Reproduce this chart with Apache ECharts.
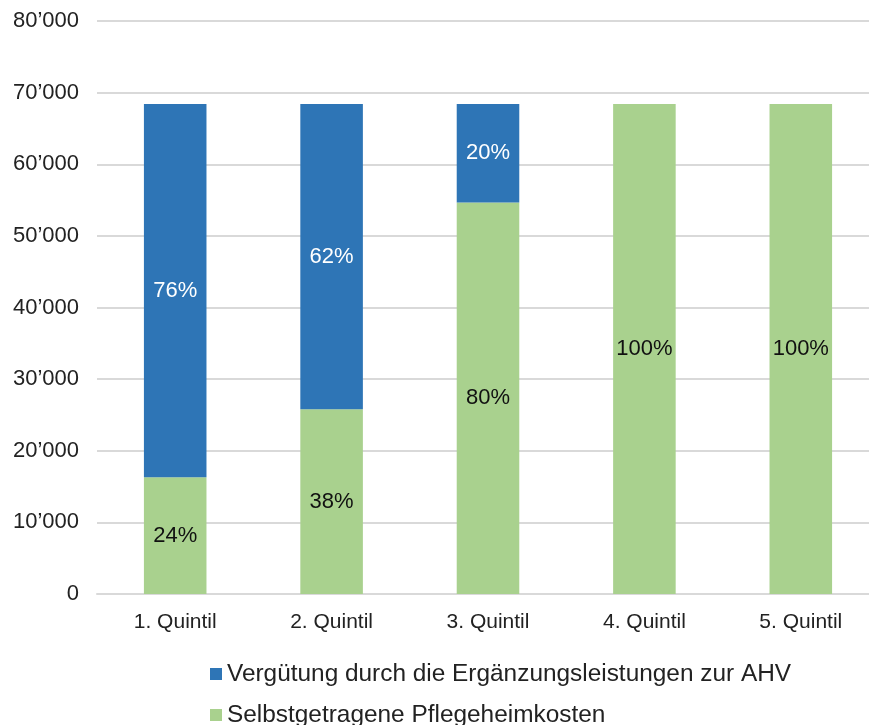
<!DOCTYPE html>
<html>
<head>
<meta charset="utf-8">
<script src="https://cdn.jsdelivr.net/npm/echarts@6/dist/echarts.min.js"></script>
<style>
  html, body { margin: 0; padding: 0; background: #fff; }
  #chart { width: 869px; height: 725px; }
</style>
</head>
<body>
<div id="chart"></div>
<script>
const categories = ['1. Quintil', '2. Quintil', '3. Quintil', '4. Quintil', '5. Quintil'];
const selfPaid = [16300, 25800, 54650, 68400, 68400];
const elPaid = [52100, 42600, 13750, 0, 0];
const selfPct = ['24%', '38%', '80%', '100%', '100%'];
const elPct = ['76%', '62%', '20%', '', ''];
const seriesNames = ['Vergütung durch die Ergänzungsleistungen zur AHV', 'Selbstgetragene Pflegeheimkosten'];

const chart = echarts.init(document.getElementById('chart'));

const font = 'Liberation Sans, Arial, sans-serif';

function fmt(v) {
  return String(v).replace(/\B(?=(\d{3})+(?!\d))/g, '\u2019');
}

function legendRow(name, top) {
  return {
    left: 210,
    top: top,
    padding: 0,
    itemWidth: 12,
    itemHeight: 12,
    itemGap: 0,
    icon: 'rect',
    textStyle: { fontSize: 24.4, color: '#222', fontFamily: font, padding: [0, 0, 0, 0] },
    data: [name]
  };
}

const option = {
  animation: false,
  textStyle: { fontFamily: font },
  grid: { left: 97, width: 782, top: 21, bottom: 131, outerBoundsMode: 'none' },
  legend: [legendRow(seriesNames[0], 662), legendRow(seriesNames[1], 703)],
  xAxis: {
    type: 'category',
    data: categories,
    axisLine: { lineStyle: { color: '#d9d9d9', width: 2 } },
    axisTick: { show: false },
    axisLabel: { fontSize: 21, color: '#222', margin: 18 }
  },
  yAxis: {
    type: 'value',
    min: 0,
    max: 80000,
    interval: 10000,
    axisLine: { show: false },
    axisTick: { show: false },
    splitLine: { lineStyle: { color: '#d9d9d9', width: 2 } },
    axisLabel: { fontSize: 22, color: '#222', margin: 18, formatter: fmt }
  },
  series: [
    {
      name: seriesNames[1],
      type: 'bar',
      stack: 'total',
      barWidth: '40%',
      itemStyle: { color: '#a9d18e' },
      label: {
        show: true,
        position: 'inside',
        fontSize: 22,
        color: '#111',
        formatter: p => selfPct[p.dataIndex]
      },
      data: selfPaid
    },
    {
      name: seriesNames[0],
      type: 'bar',
      stack: 'total',
      itemStyle: { color: '#2e75b6' },
      label: {
        show: true,
        position: 'inside',
        fontSize: 22,
        color: '#fff',
        formatter: p => elPct[p.dataIndex]
      },
      data: elPaid
    }
  ]
};

chart.setOption(option);
</script>
</body>
</html>
